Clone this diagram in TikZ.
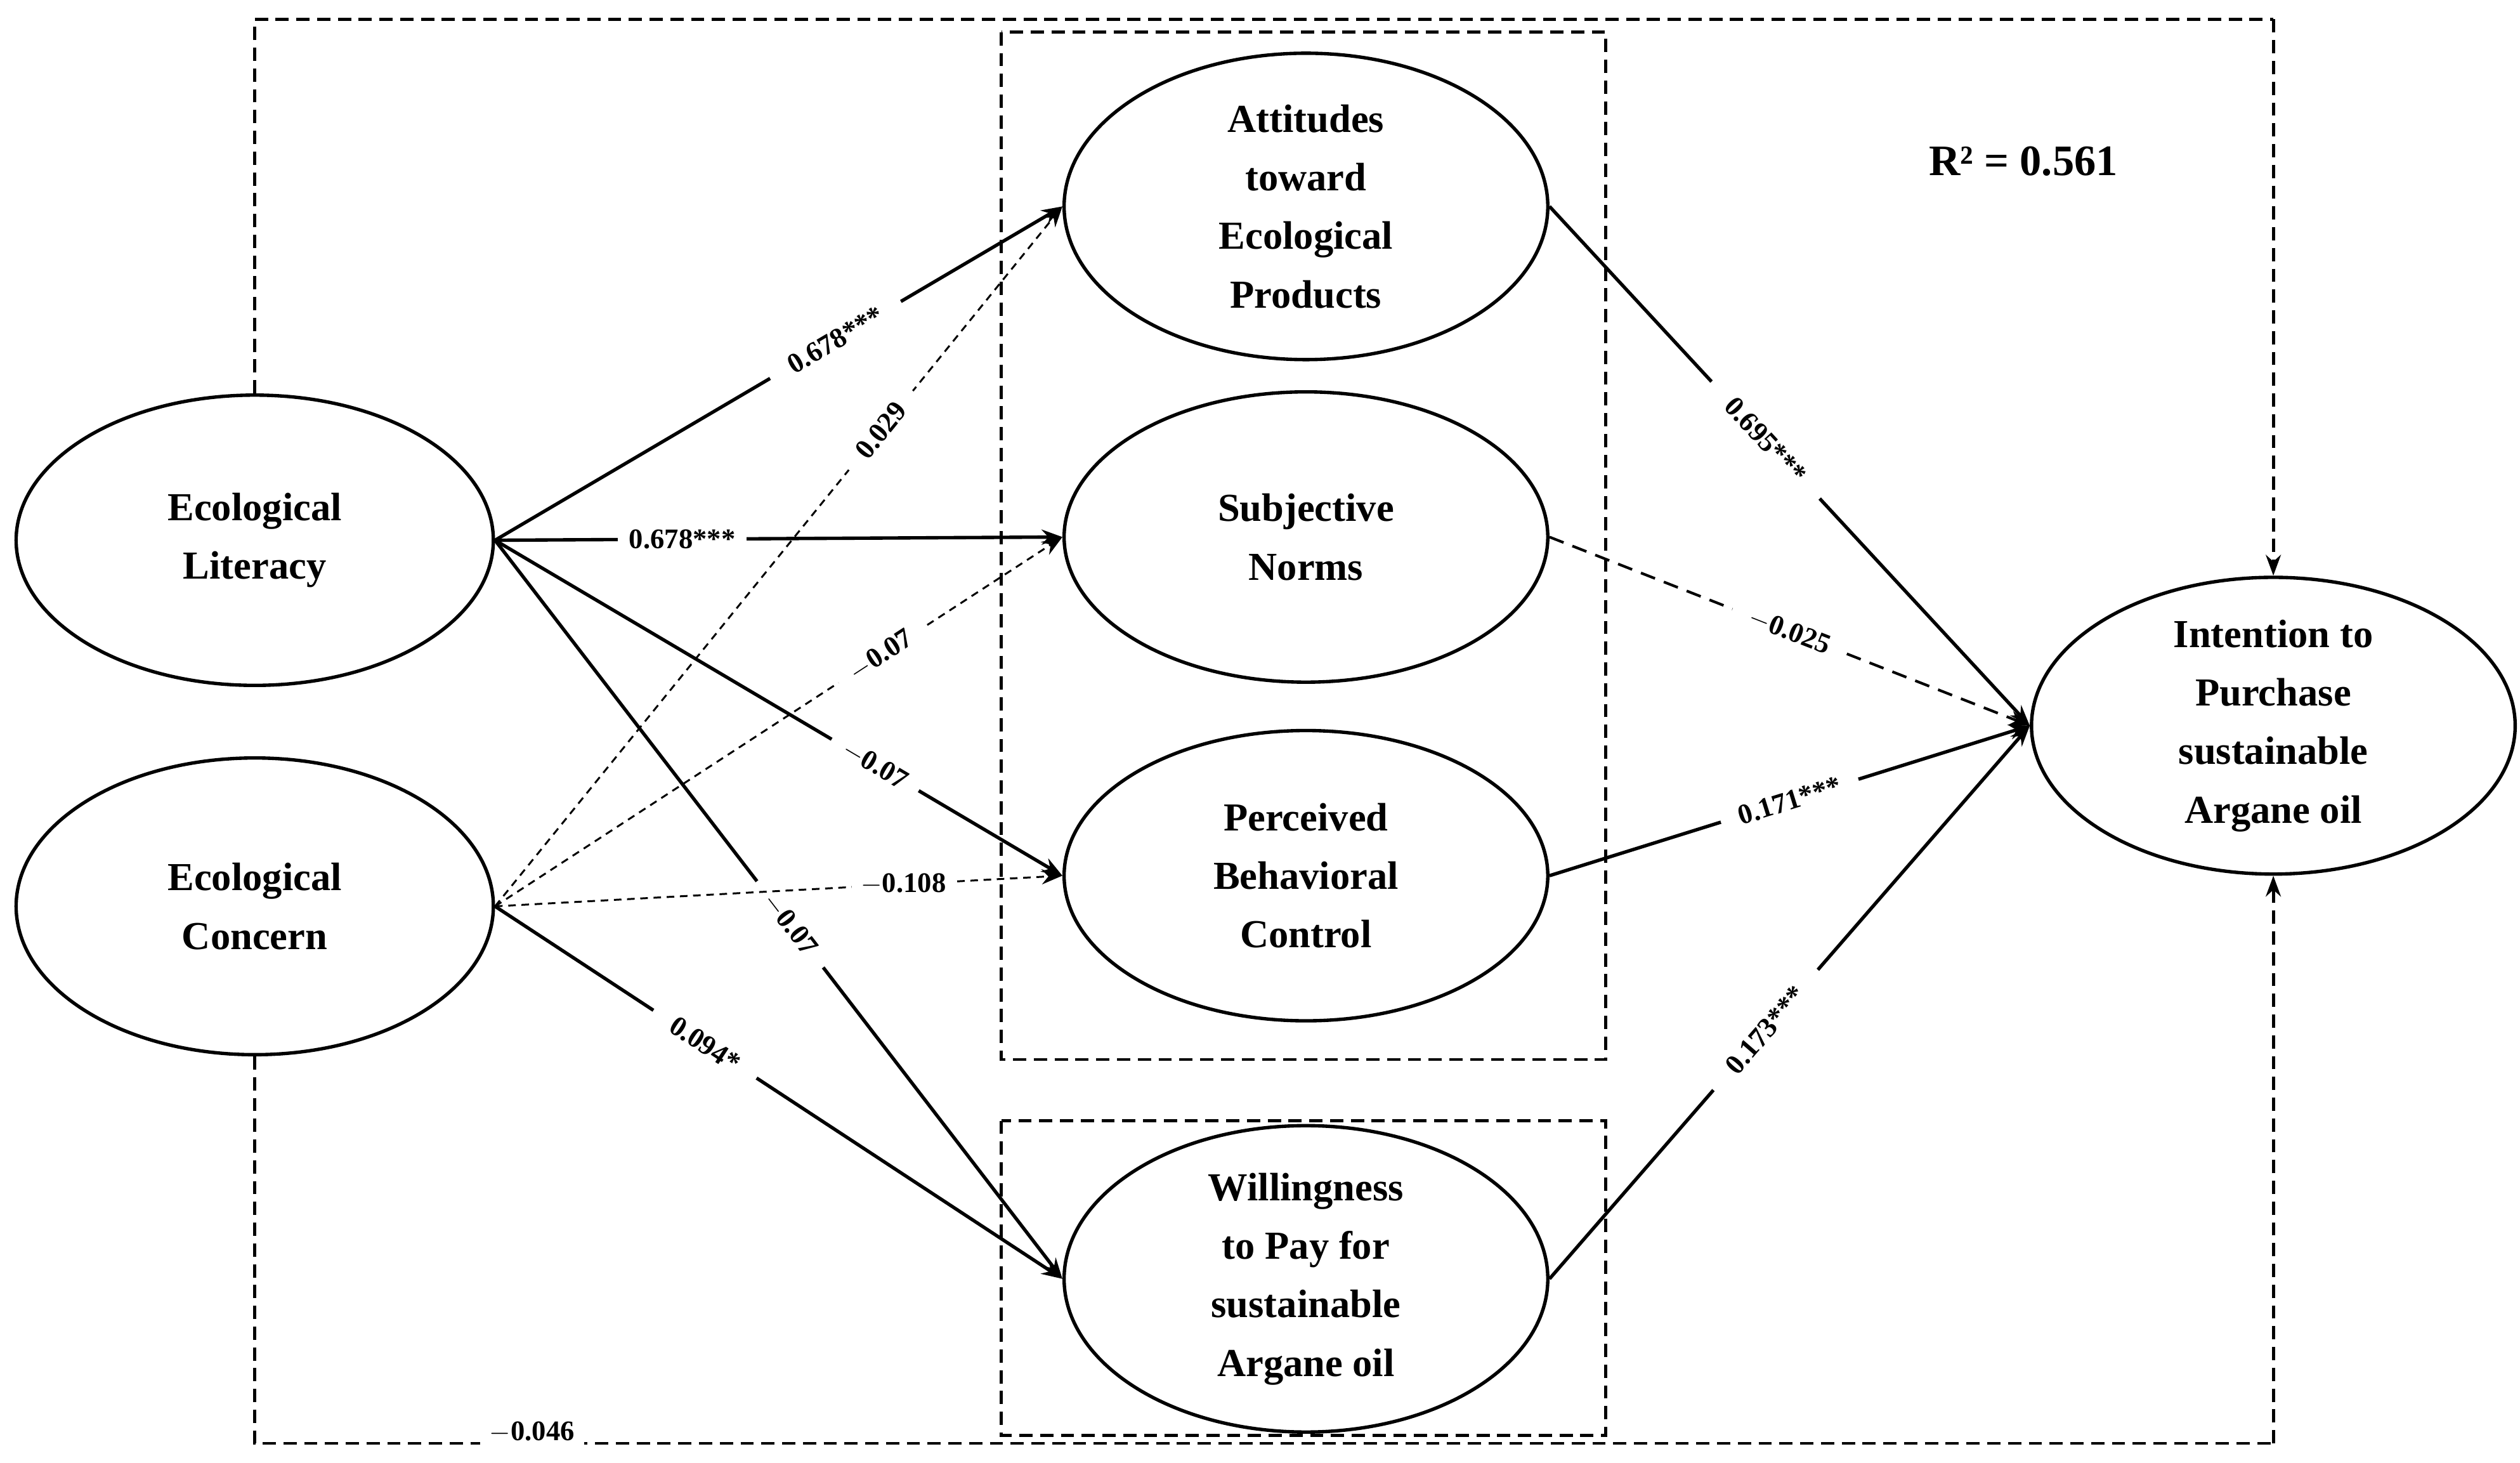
\documentclass[tikz,border=0pt]{standalone}
\usepackage{fontspec}
\setmainfont{Liberation Serif}
\usetikzlibrary{arrows.meta,shapes.geometric}
\begin{document}
\begin{tikzpicture}[x=0.3mm,y=-0.3mm,
  lat/.style={draw,line width=1.8pt,ellipse,inner sep=-6pt,align=center,font=\fontsize{21}{31}\selectfont\bfseries},
  ar/.style={line width=1.8pt,-{Stealth[length=11pt,width=8pt]}},
  dar/.style={line width=1.4pt,dash pattern=on 8pt off 5pt,-{Stealth[length=11pt,width=8pt]}},
  tar/.style={line width=1pt,dash pattern=on 4pt off 3pt,-{Stealth[length=11pt,width=8pt]}},
  lab/.style={fill=white,font=\fontsize{15}{17}\selectfont\bfseries,inner sep=5pt},
  box/.style={line width=1.6pt,dash pattern=on 7pt off 4pt}]
\useasboundingbox (0,0) rectangle (1563,907);
\def\E#1#2#3#4#5{\node[lat,minimum width=#3*0.3mm,minimum height=#4*0.3mm] (#1) at #2 {#5};}
\E{el}{(158,335)}{296}{180}{Ecological\\Literacy}
\E{ec}{(158,562)}{296}{184}{Ecological\\Concern}
\E{att}{(810,128)}{300}{190}{Attitudes\\toward\\Ecological\\Products}
\E{sn}{(810,333)}{300}{180}{Subjective\\Norms}
\E{pbc}{(810,543)}{300}{180}{Perceived\\Behavioral\\Control}
\E{wtp}{(810,793)}{300}{190}{Willingness\\to Pay for\\sustainable\\Argane oil}
\E{int}{(1410,450)}{300}{184}{Intention to\\Purchase\\sustainable\\Argane oil}
% boxes
\draw[box] (621,20) rectangle (996,657);
\draw[box] (621,695) rectangle (996,890);
\coordinate (tl) at (158,12); \coordinate (tr) at (1410,12);
\coordinate (bl) at (158,895); \coordinate (br) at (1410,895);
\draw[box] (el.north) -- (tl) -- (tr);
\draw[box,-{Stealth[length=11pt,width=8pt]}] (tr) -- (int.north);
\draw[box] (ec.south) -- (bl) -- (br);
\draw[box,-{Stealth[length=11pt,width=8pt]}] (br) -- (int.south);
\node[lab] (n046) at (330,888) {$-$0.046};
\node[font=\fontsize{23}{28}\selectfont\bfseries] (r2) at (1255,100) {R² = 0.561};
% paths
\draw[ar] (el.east) -- node[lab,pos=0.6,sloped,inner sep=12pt]{0.678***} (att.west);
\draw[ar] (el.east) -- node[lab,pos=0.33,inner sep=6pt]{0.678***} (sn.west);
\draw[ar] (el.east) -- node[lab,pos=0.67,sloped,inner sep=8pt]{$-$0.07} (pbc.west);
\draw[ar] (el.east) -- node[lab,pos=0.52,sloped,inner sep=10pt]{$-$0.07} (wtp.west);
\draw[tar] (ec.east) -- node[lab,pos=0.68,sloped,inner sep=10pt]{0.029} (att.west);
\draw[tar] (ec.east) -- node[lab,pos=0.68,sloped,inner sep=8pt]{$-$0.07} (sn.west);
\draw[tar] (ec.east) -- node[lab,pos=0.72]{$-$0.108} (pbc.west);
\draw[ar] (ec.east) -- node[lab,pos=0.37,sloped,inner sep=12pt]{0.094*} (wtp.west);
\draw[ar] (att.east) -- node[lab,pos=0.45,sloped,inner sep=14pt]{0.695***} (int.west);
\draw[dar] (sn.east) -- node[lab,pos=0.5,sloped,inner sep=10pt]{$-$0.025} (int.west);
\draw[ar] (pbc.east) -- node[lab,pos=0.5,sloped,inner sep=10pt]{0.171***} (int.west);
\draw[ar] (wtp.east) -- node[lab,pos=0.45,sloped,inner sep=14pt]{0.173***} (int.west);
\end{tikzpicture}
\end{document}
